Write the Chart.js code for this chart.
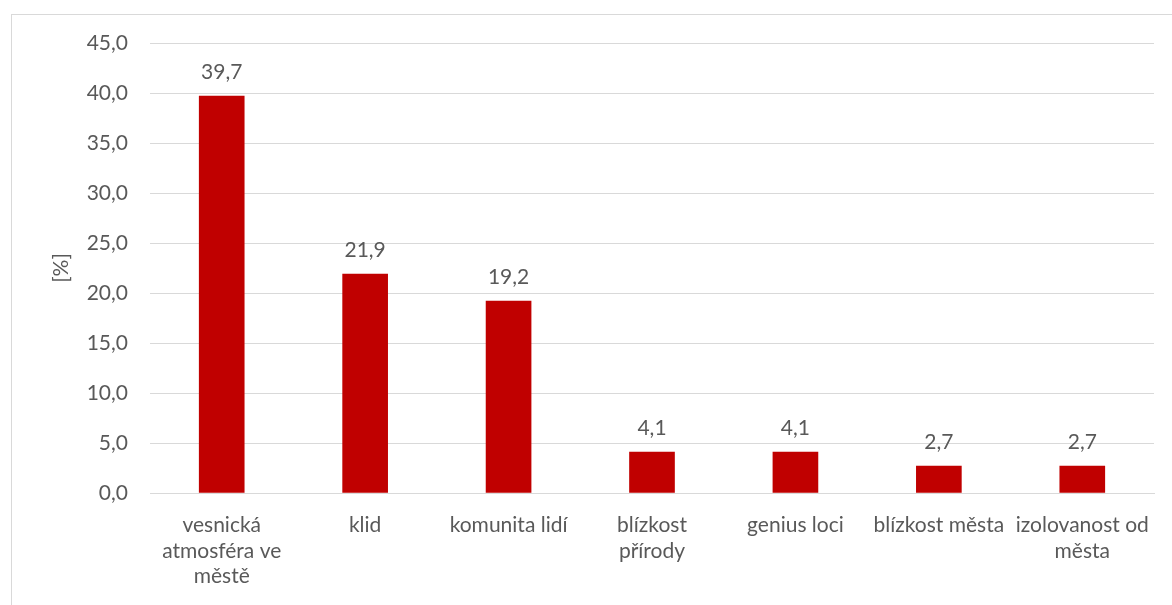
<!DOCTYPE html>
<html>
<head>
<meta charset="utf-8">
<script src="https://cdn.jsdelivr.net/npm/chart.js@4/dist/chart.umd.min.js"></script>
<style>
  html, body { margin: 0; padding: 0; background: #fff; }
  #wrap { position: relative; width: 1172px; height: 605px; overflow: hidden; }
  #frame { position: absolute; left: 11px; top: 14px; width: 1200px; height: 700px;
           border-left: 1px solid #d9d9d9; border-top: 1px solid #d9d9d9; }
  #chart { position: absolute; left: 0; top: 0; }
</style>
</head>
<body>
<div id="wrap">
  <div id="frame"></div>
  <canvas id="chart" width="1172" height="605"></canvas>
</div>
<script>
// categories (multi-line as in the original axis)
const categories = [
  ['vesnická', 'atmosféra ve', 'městě'],
  'klid',
  'komunita lidí',
  ['blízkost', 'přírody'],
  'genius loci',
  'blízkost města',
  ['izolovanost od', 'města']
];
const shares = [39.7, 21.9, 19.2, 4.1, 4.1, 2.7, 2.7];
const yTicks = [0, 5, 10, 15, 20, 25, 30, 35, 40, 45];

const fmt = v => v.toFixed(1).replace('.', ',');
const textColor = '#595959';
const gridColor = '#d9d9d9';
const fontFamily = 'Lato, "Noto Sans", sans-serif';
const fontSize = 21;

// value labels above each bar
const valueLabels = {
  id: 'valueLabels',
  afterDatasetsDraw(chart) {
    const ctx = chart.ctx;
    const meta = chart.getDatasetMeta(0);
    ctx.save();
    ctx.font = fontSize + 'px ' + fontFamily;
    ctx.fillStyle = textColor;
    ctx.textAlign = 'center';
    ctx.textBaseline = 'middle';
    meta.data.forEach((bar, i) => {
      ctx.fillText(fmt(shares[i]), bar.x, bar.y - 24);
    });
    ctx.restore();
  }
};

new Chart(document.getElementById('chart').getContext('2d'), {
  type: 'bar',
  data: {
    labels: categories,
    datasets: [{
      data: shares,
      backgroundColor: '#c00000',
      borderWidth: 0,
      barThickness: 45
    }]
  },
  options: {
    responsive: false,
    animation: false,
    devicePixelRatio: 1,
    layout: { padding: { top: 43, right: 18, left: 0, bottom: 0 } },
    plugins: {
      legend: { display: false },
      tooltip: { enabled: false }
    },
    scales: {
      x: {
        grid: { display: false },
        border: { display: true, color: gridColor, width: 1 },
        ticks: {
          color: textColor,
          font: { family: fontFamily, size: fontSize, lineHeight: 1.2 },
          padding: 12,
          maxRotation: 0,
          autoSkip: false
        },
        afterFit(scale) { scale.height = 112; }
      },
      y: {
        min: 0,
        max: 45,
        afterBuildTicks(scale) { scale.ticks = yTicks.map(v => ({ value: v })); },
        grid: { color: gridColor, lineWidth: 1, drawTicks: false },
        border: { display: false },
        ticks: {
          color: textColor,
          font: { family: fontFamily, size: fontSize },
          padding: 22,
          callback: v => fmt(v)
        },
        title: {
          display: true,
          text: '[%]',
          color: textColor,
          font: { family: fontFamily, size: fontSize },
          padding: { top: 49, bottom: 0 }
        },
        afterFit(scale) { scale.width = 150; }
      }
    }
  },
  plugins: [valueLabels]
});
</script>
</body>
</html>
